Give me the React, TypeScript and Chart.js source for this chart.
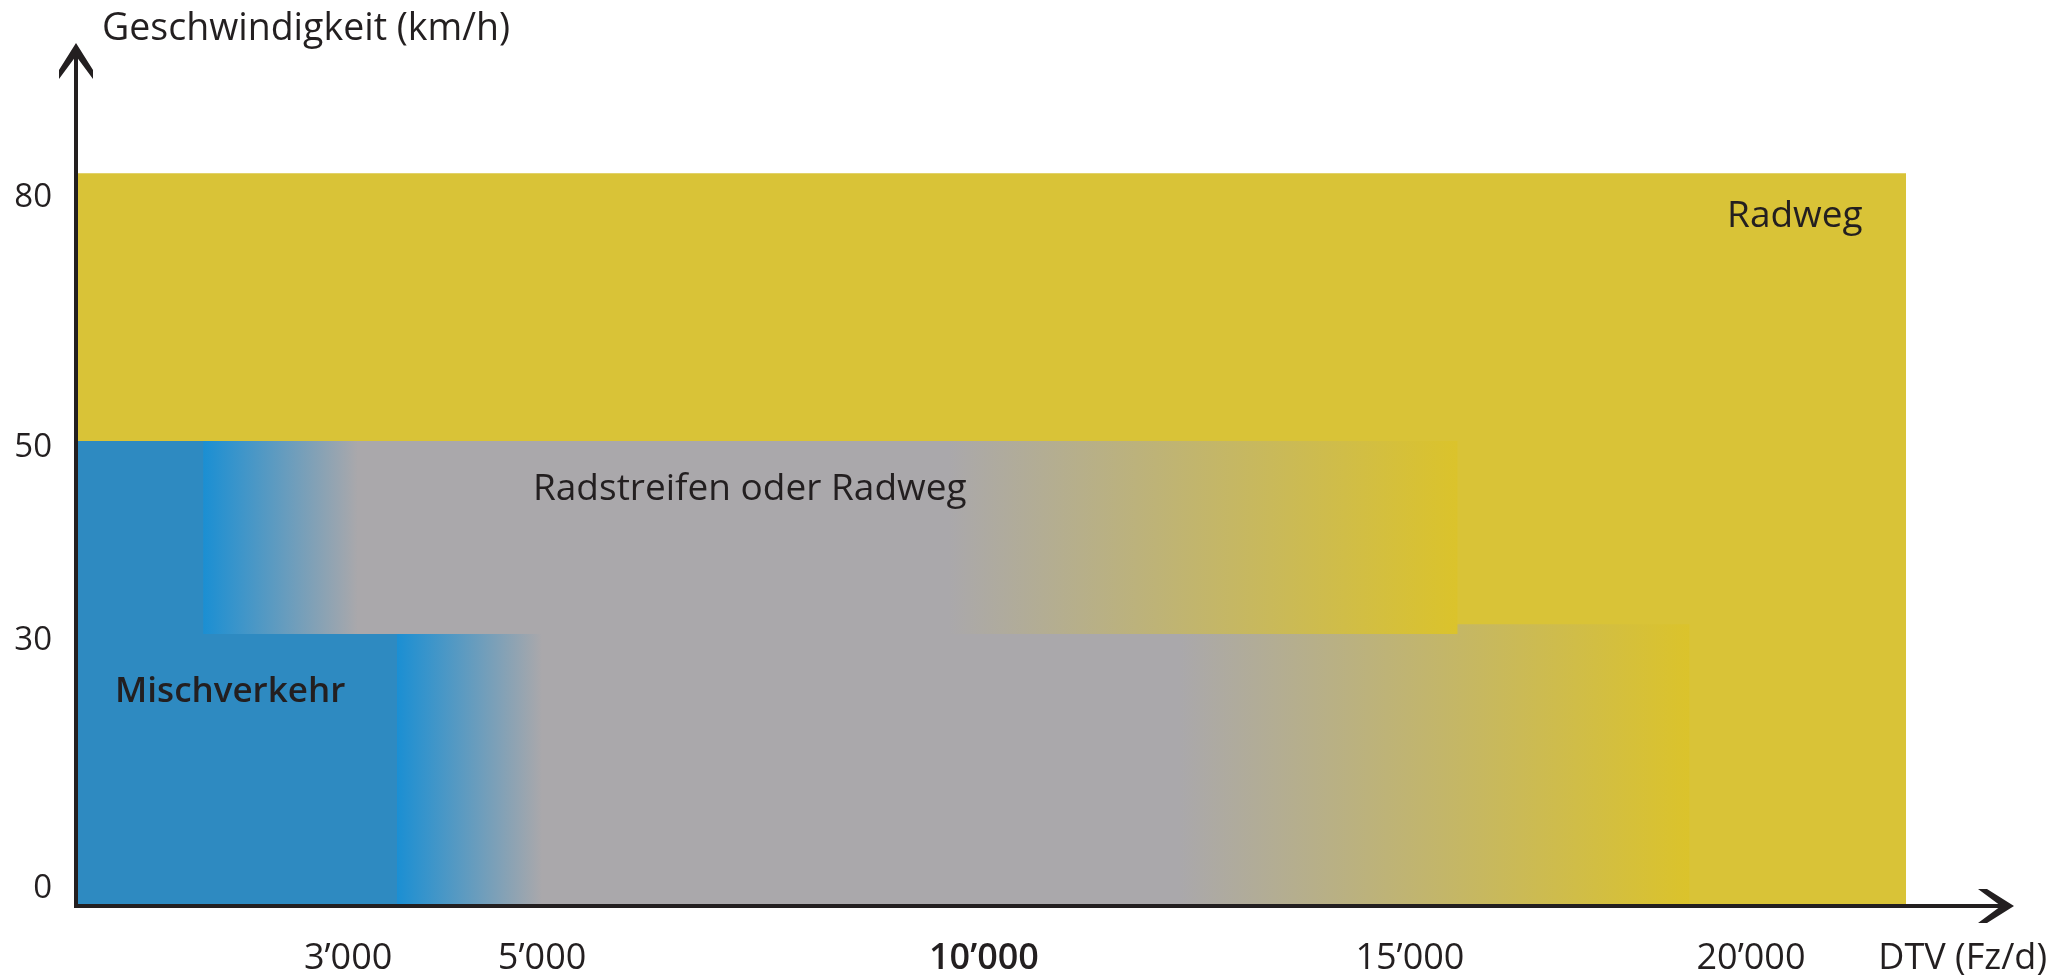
import React, { useEffect, useRef } from 'react';
import { Chart, registerables, LinearScale } from 'chart.js';

// ---------- data ----------
const speedTicks = [0, 30, 50, 80];
const dtvTicks = [3000, 5000, 10000, 15000, 20000];

// bands (first = drawn on top)
const bandNames = ['Radstreifen oder Radweg', 'Mischverkehr', 'Radweg'];
const bandDtvEnd = [15700, 19100, 22300];
const bandSpeedTop = [50, 31, 82.2];
const bandSpeedBottom: (number | null)[] = [30, null, null]; // null = down to the axis
const bandBlueUntil: (number | null)[] = [1400, 3500, null];
const bandGreyFrom: (number | null)[] = [3100, 5000, null];
const bandGreyUntil: (number | null)[] = [9600, 12300, null];

const zoneLabels = ['Radweg', 'Radstreifen oder Radweg', 'Mischverkehr'];
const zoneLabelDtv = [20650, 7350, 1700];
const zoneLabelSpeed = [77, 45, 23];

const yTitle = 'Geschwindigkeit (km/h)';
const xTitle = 'DTV (Fz/d)';

// ---------- styles ----------
const INK = '#231F20';
const BLUE = '#2E8AC1';
const BLUE_EDGE = '#1B8FD3';
const GREY = '#AAA8AB';
const YELLOW = '#D9C337';
const YELLOW_EDGE = '#DBC32B';
const FONT = "'Open Sans', sans-serif";

// schematic (non-linear) axis warps: [value, fraction of axis length]
const WARPS: Record<string, [number, number][]> = {
  x: [[0, 0], [3000, 0.1404], [5000, 0.2405], [10000, 0.4685], [15000, 0.6883], [20000, 0.8643], [23900, 1]],
  y: [[-2.8, 0], [0, 0.0279], [30, 0.3163], [50, 0.5407], [80, 0.8314], [98, 1]],
};

class WarpScale extends LinearScale {
  static id = 'warp';
  static defaults = LinearScale.defaults;
  getPixelForValue(value: number) {
    if (value === null || value === undefined || isNaN(value)) return NaN;
    const a = WARPS[(this as any).id];
    let i = 0;
    while (i < a.length - 2 && value > a[i + 1][0]) i++;
    const [v0, d0] = a[i];
    const [v1, d1] = a[i + 1];
    const dec = d0 + ((value - v0) / (v1 - v0)) * (d1 - d0);
    return (this as any).getPixelForDecimal(dec);
  }
  getValueForPixel(pixel: number) {
    const dec = (this as any).getDecimalForPixel(pixel);
    const a = WARPS[(this as any).id];
    let i = 0;
    while (i < a.length - 2 && dec > a[i + 1][1]) i++;
    const [v0, d0] = a[i];
    const [v1, d1] = a[i + 1];
    return v0 + ((dec - d0) / (d1 - d0)) * (v1 - v0);
  }
}

Chart.register(...registerables, WarpScale as any);

const fmt = (v: number) => {
  const s = String(Math.round(v));
  return s.length > 3 ? s.slice(0, s.length - 3) + '\u2019' + s.slice(s.length - 3) : s;
};

function bandFill(i: number) {
  return (c: any) => {
    const chart = c.chart;
    if (!chart.chartArea || bandBlueUntil[i] === null) return YELLOW;
    const xs = chart.scales.x;
    const x0 = xs.getPixelForValue(0);
    const x1 = xs.getPixelForValue(bandDtvEnd[i]);
    const f = (v: number) => Math.min(1, Math.max(0, (xs.getPixelForValue(v) - x0) / (x1 - x0)));
    const g = chart.ctx.createLinearGradient(x0, 0, x1, 0);
    g.addColorStop(0, BLUE);
    g.addColorStop(f(bandBlueUntil[i] as number), BLUE);
    g.addColorStop(Math.min(1, f(bandBlueUntil[i] as number) + 0.0005), BLUE_EDGE);
    g.addColorStop(f(bandGreyFrom[i] as number), GREY);
    g.addColorStop(f(bandGreyUntil[i] as number), GREY);
    g.addColorStop(1, YELLOW_EDGE);
    return g;
  };
}

const decor = {
  id: 'decor',
  afterDatasetsDraw(chart: any) {
    const { ctx, chartArea: a, scales } = chart;
    ctx.save();
    ctx.fillStyle = INK;
    ctx.strokeStyle = INK;
    ctx.lineWidth = 4;
    // axes
    ctx.beginPath();
    ctx.moveTo(a.left, a.bottom + 2);
    ctx.lineTo(a.left, a.top + 6);
    ctx.stroke();
    ctx.beginPath();
    ctx.moveTo(a.left - 2, a.bottom);
    ctx.lineTo(a.right - 6, a.bottom);
    ctx.stroke();
    // arrow up
    const tx = a.left, ty = a.top - 3;
    ctx.beginPath();
    ctx.moveTo(tx, ty);
    ctx.lineTo(tx + 17, ty + 27);
    ctx.lineTo(tx + 17, ty + 36);
    ctx.lineTo(tx, ty + 13);
    ctx.lineTo(tx - 17, ty + 36);
    ctx.lineTo(tx - 17, ty + 27);
    ctx.closePath();
    ctx.fill();
    // arrow right
    const rx = a.right, ry = a.bottom;
    ctx.beginPath();
    ctx.moveTo(rx, ry);
    ctx.lineTo(rx - 27, ry - 17);
    ctx.lineTo(rx - 36, ry - 17);
    ctx.lineTo(rx - 13, ry);
    ctx.lineTo(rx - 36, ry + 17);
    ctx.lineTo(rx - 27, ry + 17);
    ctx.closePath();
    ctx.fill();
    // titles
    ctx.textBaseline = 'middle';
    ctx.font = `37.5px ${FONT}`;
    ctx.textAlign = 'left';
    ctx.fillText(yTitle, a.left + 26, a.top - 17);
    ctx.font = `36px ${FONT}`;
    ctx.textAlign = 'right';
    ctx.fillText(xTitle, a.right + 33, a.bottom + 53);
    // zone labels
    ctx.textAlign = 'center';
    zoneLabels.forEach((t, i) => {
      ctx.font = t === 'Mischverkehr' ? `600 35px ${FONT}` : `37px ${FONT}`;
      ctx.fillText(t, scales.x.getPixelForValue(zoneLabelDtv[i]), scales.y.getPixelForValue(zoneLabelSpeed[i]));
    });
    ctx.restore();
  },
};

export default function App() {
  const ref = useRef<HTMLCanvasElement>(null);
  useEffect(() => {
    if (!ref.current) return;
    const chart = new Chart(ref.current, {
      type: 'line',
      data: {
        datasets: bandNames.map((name, i) => ({
          label: name,
          data: [
            { x: 0, y: bandSpeedTop[i] },
            { x: bandDtvEnd[i], y: bandSpeedTop[i] },
          ],
          fill: bandSpeedBottom[i] === null ? 'start' : { value: bandSpeedBottom[i] },
          backgroundColor: bandFill(i),
          borderColor: 'rgba(0,0,0,0)',
          borderWidth: 0,
          pointRadius: 0,
          pointHoverRadius: 0,
          tension: 0,
        })),
      },
      options: {
        animation: false,
        responsive: true,
        maintainAspectRatio: false,
        layout: { padding: { top: 46, right: 43, left: 0, bottom: 0 } },
        plugins: { legend: { display: false }, tooltip: { enabled: false } },
        events: [],
        scales: {
          x: {
            type: 'warp' as any,
            min: 0,
            max: 23900,
            grid: { display: false, drawTicks: false },
            border: { display: false },
            afterBuildTicks: (s: any) => {
              s.ticks = dtvTicks.map((v) => ({ value: v }));
            },
            afterFit: (s: any) => {
              s.height = 73;
            },
            ticks: {
              autoSkip: false,
              maxRotation: 0,
              minRotation: 0,
              padding: 31,
              color: INK,
              callback: (v: any) => fmt(Number(v)),
              font: (c: any) => ({
                family: FONT,
                size: 36,
                weight: c.tick && c.tick.value === 10000 ? '600' : 'normal',
              }),
            },
          },
          y: {
            type: 'warp' as any,
            min: -2.8,
            max: 98,
            grid: { display: false, drawTicks: false },
            border: { display: false },
            afterBuildTicks: (s: any) => {
              s.ticks = speedTicks.map((v) => ({ value: v }));
            },
            afterFit: (s: any) => {
              s.width = 76;
            },
            ticks: {
              autoSkip: false,
              padding: 24,
              labelOffset: 7,
              color: INK,
              callback: (v: any) => String(v),
              font: { family: FONT, size: 33 },
            },
          },
        },
      } as any,
      plugins: [decor],
    });
    return () => chart.destroy();
  }, []);
  return (
    <div style={{ position: 'fixed', left: 0, top: 0, width: '2057px', height: '979px', background: '#fff' }}>
      <canvas ref={ref} />
    </div>
  );
}
